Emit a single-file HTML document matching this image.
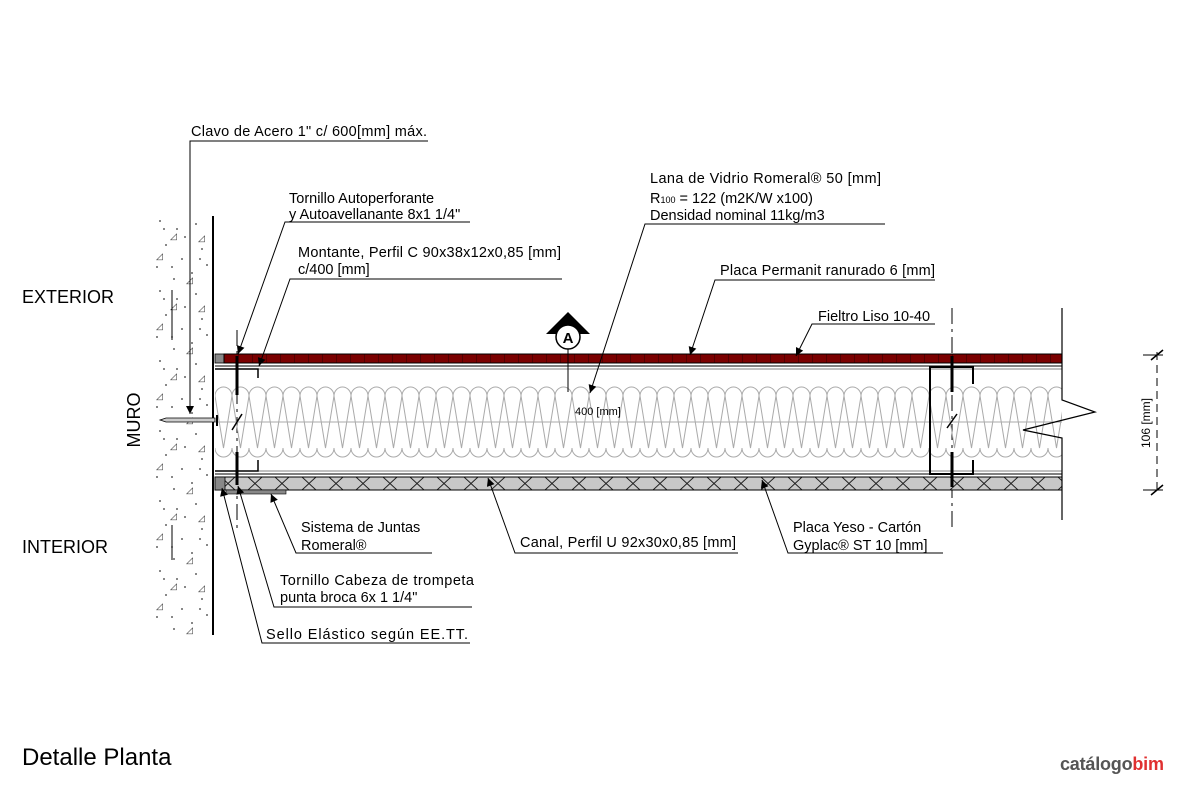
<!DOCTYPE html>
<html><head><meta charset="utf-8"><style>
html,body{margin:0;padding:0;background:#fff;}
svg{display:block;font-family:"Liberation Sans",sans-serif;}
</style></head><body>
<svg width="1181" height="787" viewBox="0 0 1181 787" xmlns="http://www.w3.org/2000/svg">
<defs>
<pattern id="ins" x="215" y="386" width="17" height="72" patternUnits="userSpaceOnUse">
<path d="M0,10 A8.5,9 0 0 1 17,10 M0,62 A8.5,9 0 0 0 17,62 M0,10 L8.5,62 L17,10 M0,36 H17" fill="none" stroke="#aaa" stroke-width="1"/>
</pattern>
<pattern id="gyp" x="215" y="477" width="27" height="13" patternUnits="userSpaceOnUse">
<rect width="27" height="13" fill="#c8c8c8"/>
<path d="M6,0 L20,13 M20,0 L6,13" stroke="#222" stroke-width="1"/>
</pattern>
<pattern id="brick" x="224" y="354" width="14" height="9" patternUnits="userSpaceOnUse">
<rect width="14" height="9" fill="#7a0000"/>
<path d="M0,0 V9" stroke="#2a0000" stroke-width="1"/>
</pattern>
<pattern id="conc" x="152" y="215" width="60" height="70" patternUnits="userSpaceOnUse">
<g fill="#333" font-size="9">
<circle cx="8" cy="6" r="0.9"/><circle cx="25" cy="14" r="0.9"/><circle cx="44" cy="9" r="0.9"/><circle cx="14" cy="30" r="0.9"/><circle cx="50" cy="34" r="0.9"/><circle cx="30" cy="44" r="0.9"/><circle cx="5" cy="52" r="0.9"/><circle cx="40" cy="58" r="0.9"/><circle cx="22" cy="64" r="0.9"/><circle cx="55" cy="50" r="0.9"/>
<circle cx="33" cy="22" r="0.9"/><circle cx="12" cy="14" r="0.9"/><circle cx="48" cy="44" r="0.9"/><circle cx="20" cy="52" r="0.9"/>
<text x="18" y="24">◿</text><text x="46" y="26">◿</text><text x="4" y="44">◿</text><text x="34" y="68">◿</text>
</g>
</pattern>
<marker id="ar" viewBox="0 0 10 10" refX="10" refY="5" markerWidth="12" markerHeight="8" markerUnits="userSpaceOnUse" orient="auto"><path d="M0,0 L10,5 L0,10 z" fill="#000"/></marker>
</defs>

<rect x="152" y="215" width="61" height="420" fill="url(#conc)"/>
<line x1="213" y1="216" x2="213" y2="635" stroke="#000" stroke-width="2"/>
<line x1="172" y1="290" x2="172" y2="340" stroke="#000"/>
<line x1="172" y1="525" x2="172" y2="560" stroke="#000"/>

<line x1="237" y1="330" x2="237" y2="530" stroke="#000" stroke-dasharray="16,5,3,5"/>
<line x1="952" y1="308" x2="952" y2="530" stroke="#000" stroke-dasharray="16,5,3,5"/>

<rect x="215" y="354" width="9" height="9" fill="#888" stroke="#000" stroke-width="0.8"/>
<rect x="224" y="354" width="838" height="9" fill="url(#brick)" stroke="#000" stroke-width="1"/>
<line x1="215" y1="366" x2="1062" y2="366" stroke="#000"/>
<line x1="215" y1="369" x2="1062" y2="369" stroke="#000" stroke-width="0.5"/>
<rect x="215" y="386" width="847" height="72" fill="url(#ins)"/>
<line x1="215" y1="471" x2="1062" y2="471" stroke="#000" stroke-width="0.5"/>
<line x1="215" y1="474" x2="1062" y2="474" stroke="#000"/>
<rect x="215" y="477" width="847" height="13" fill="url(#gyp)" stroke="#000" stroke-width="1"/>
<rect x="215" y="477" width="10" height="13" fill="#888" stroke="#000" stroke-width="0.8"/>
<rect x="226" y="490" width="60" height="4" fill="#888" stroke="#000" stroke-width="0.6"/>

<polyline points="258,378 258,369 215,369" fill="none" stroke="#000" stroke-width="1.5"/>
<polyline points="258,460 258,471 215,471" fill="none" stroke="#000" stroke-width="1.5"/>
<polyline points="973,384 973,367 930,367 930,474 973,474 973,460" fill="none" stroke="#000" stroke-width="2"/>
<g stroke="#000" stroke-width="3">
<line x1="237" y1="356" x2="237" y2="395"/><line x1="237" y1="452" x2="237" y2="485"/>
<line x1="952" y1="356" x2="952" y2="392"/><line x1="952" y1="452" x2="952" y2="487"/>
</g>
<line x1="232" y1="430" x2="242" y2="414" stroke="#000" stroke-width="1.5"/>
<line x1="947" y1="428" x2="957" y2="414" stroke="#000" stroke-width="1.5"/>

<path d="M160,420 L166,418 H215 V422 H166 Z" fill="#ccc" stroke="#000" stroke-width="0.8"/>
<line x1="217" y1="415" x2="217" y2="426" stroke="#000" stroke-width="2"/>

<rect x="1063" y="300" width="60" height="220" fill="#fff"/>
<polyline points="1062,308 1062,400 1095,412 1023,430 1062,438 1062,520" fill="none" stroke="#000" stroke-width="1.2"/>

<line x1="1157" y1="352" x2="1157" y2="492" stroke="#000" stroke-dasharray="8,5"/>
<line x1="1143" y1="355" x2="1163" y2="355" stroke="#000"/>
<line x1="1143" y1="490" x2="1163" y2="490" stroke="#000"/>
<line x1="1151" y1="360" x2="1163" y2="350" stroke="#000" stroke-width="1.5"/>
<line x1="1151" y1="495" x2="1163" y2="485" stroke="#000" stroke-width="1.5"/>
<text x="1150" y="423" font-size="12" transform="rotate(-90 1150 423)" text-anchor="middle">106 [mm]</text>

<path d="M568,312 L590,334 H546 Z" fill="#000"/>
<circle cx="568" cy="337" r="12" fill="#fff" stroke="#000" stroke-width="1.5"/>
<text x="568" y="343" font-size="15" text-anchor="middle" font-weight="bold">A</text>
<line x1="568" y1="349" x2="568" y2="392" stroke="#000"/>
<text x="575" y="415" font-size="11">400 [mm]</text>

<g font-size="14.5" fill="#000">
<text x="191" y="136" textLength="236">Clavo de Acero 1" c/ 600[mm] máx.</text>
<text x="289" y="203">Tornillo Autoperforante</text>
<text x="289" y="219">y Autoavellanante 8x1 1/4"</text>
<text x="298" y="257" textLength="263">Montante, Perfil C 90x38x12x0,85 [mm]</text>
<text x="298" y="274">c/400 [mm]</text>
<text x="650" y="183" textLength="231">Lana de Vidrio Romeral® 50 [mm]</text>
<text x="650" y="203">R<tspan font-size="9">100</tspan> = 122 (m2K/W x100)</text>
<text x="650" y="220">Densidad nominal 11kg/m3</text>
<text x="720" y="275" textLength="215">Placa Permanit ranurado 6 [mm]</text>
<text x="818" y="321">Fieltro Liso 10-40</text>
<text x="301" y="532">Sistema de Juntas</text>
<text x="301" y="550">Romeral®</text>
<text x="520" y="547" textLength="216">Canal, Perfil U 92x30x0,85 [mm]</text>
<text x="793" y="532">Placa Yeso - Cartón</text>
<text x="793" y="550">Gyplac® ST 10 [mm]</text>
<text x="280" y="585" textLength="194">Tornillo  Cabeza de trompeta</text>
<text x="280" y="602">punta broca 6x 1 1/4"</text>
<text x="266" y="639" textLength="202">Sello Elástico según EE.TT.</text>
</g>
<g font-size="18">
<text x="22" y="303">EXTERIOR</text>
<text x="22" y="553">INTERIOR</text>
<text x="140" y="420" transform="rotate(-90 140 420)" text-anchor="middle">MURO</text>
</g>

<g stroke="#000" stroke-width="1" fill="none">
<polyline points="428,141 190,141 190,414" marker-end="url(#ar)"/>
<polyline points="470,222 285,222 238,354" marker-end="url(#ar)"/>
<polyline points="562,279 290,279 259,366" marker-end="url(#ar)"/>
<polyline points="885,224 645,224 590,393" marker-end="url(#ar)"/>
<polyline points="935,280 715,280 690,355" marker-end="url(#ar)"/>
<polyline points="935,324 812,324 796,356" marker-end="url(#ar)"/>
<polyline points="432,553 296,553 271,494" marker-end="url(#ar)"/>
<polyline points="738,553 515,553 488,478" marker-end="url(#ar)"/>
<polyline points="943,553 788,553 762,480" marker-end="url(#ar)"/>
<polyline points="472,607 274,607 238,486" marker-end="url(#ar)"/>
<polyline points="470,643 262,643 222,488" marker-end="url(#ar)"/>
</g>

<text x="22" y="765" font-size="24">Detalle Planta</text>
<text x="1060" y="770" font-size="18" fill="#555" font-weight="bold" textLength="104">catálogo<tspan fill="#e03030">bim</tspan></text>
</svg>
</body></html>
